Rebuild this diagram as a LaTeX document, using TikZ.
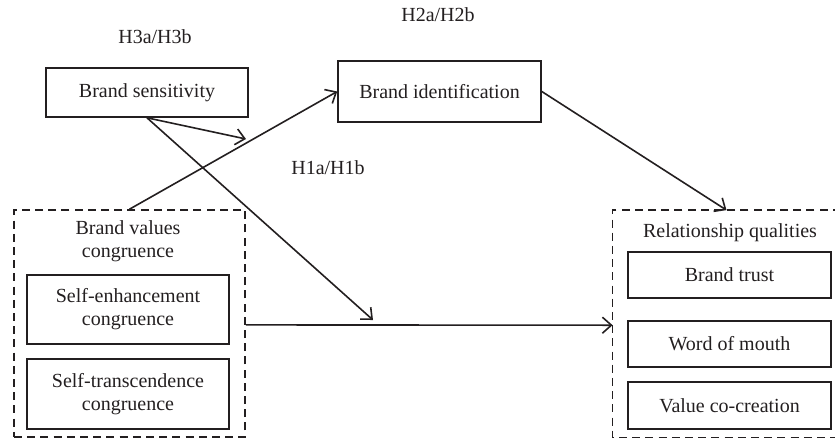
\documentclass[tikz,border=0pt]{standalone}
\usepackage{fontspec}
\setmainfont{Liberation Serif}
\usetikzlibrary{arrows.meta}
\definecolor{ink}{RGB}{35,31,32}
\begin{document}
\begin{tikzpicture}[x=0.5pt,y=-0.5pt,
  every node/.style={font=\fontsize{10}{11.5}\selectfont, text=ink},
  box/.style={draw=ink, line width=0.8pt, inner sep=0pt, align=center},
  dashbox/.style={draw=ink, line width=0.8pt, dash pattern=on 4pt off 2.6pt, inner sep=0pt},
  dashline/.style={draw=ink, line width=0.8pt, dash pattern=on 4pt off 2.6pt},
  conn/.style={draw=ink, line width=0.8pt, -{Straight Barb[length=4.5pt,width=8pt,line width=0.8pt]}},
  lbl/.style={inner sep=0pt}]
\useasboundingbox (0,0) rectangle (835,440);
% boxes
\node[box, minimum width=101pt, minimum height=24.5pt] (bs) at (147,92.5) {Brand sensitivity};
\node[box, minimum width=101.5pt, minimum height=30.5pt] (bi) at (439.5,91.5) {Brand identification};
\node[dashbox, minimum width=115.5pt, minimum height=113.5pt] (bvc) at (129.5,323.5) {};
\node[lbl, align=center] (bvct) at (128,241.5) {Brand values\\congruence};
\node[box, minimum width=101pt, minimum height=34.5pt] (se) at (128,309.5) {Self-enhancement\\congruence};
\node[box, minimum width=101pt, minimum height=35pt] (st) at (128,394) {Self-transcendence\\congruence};
\node[inner sep=0pt, minimum width=113.5pt, minimum height=113.3pt] (rq) at (726.5,323.8) {};
\draw[dashline] ([xshift=20pt]rq.north east) -- (rq.north west) -- (rq.south west) -- ([xshift=20pt]rq.south east);
\node[lbl] (rqt) at (730,233) {Relationship qualities};
\node[box, minimum width=101.5pt, minimum height=23pt] (bt) at (729.5,275) {Brand trust};
\node[box, minimum width=101.5pt, minimum height=23pt] (wom) at (729.5,344) {Word of mouth};
\node[box, minimum width=101.5pt, minimum height=23.5pt] (vcc) at (729.5,405.5) {Value co-creation};
% labels
\node[lbl] (h3) at (155,37) {H3a/H3b};
\node[lbl] (h2) at (438,15) {H2a/H2b};
\node[lbl] (h1) at (328,168) {H1a/H1b};
% moderation targets
\coordinate (m1) at (246,139);
\coordinate (m2) at (373,320);
% connectors
\draw[conn] (bs.south) -- (m1);
\draw[conn] (bs.south) -- (m2);
\draw[conn] (bvc.north) -- (bi.west);
\draw[conn] (bi.east) -- (rq.north);
\draw[conn] ([yshift=-0.7pt]bvc.east) -- ([yshift=-0.7pt]rq.west);
\end{tikzpicture}
\end{document}
